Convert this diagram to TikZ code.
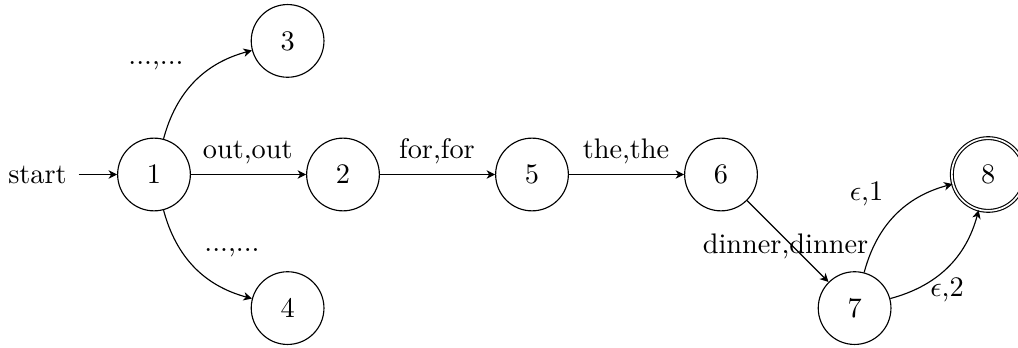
\documentclass[tikz,border=0pt]{standalone}
\usetikzlibrary{arrows.meta}
\begin{document}
\begin{tikzpicture}[x=0.3534pt,y=0.3534pt,
  statenode/.style={circle,draw,minimum size=25.7pt,inner sep=0pt},
  acceptnode/.style={statenode,double},
  lbl/.style={anchor=base,inner sep=0pt},
  edgearrow/.style={-{Stealth[length=3pt,width=3pt,inset=0.9pt]}}]
\useasboundingbox (0,0) rectangle (1018,347);
% states
\node[statenode] (n1) at (154,172.5) {1};
\node[statenode] (n2) at (343,172.5) {2};
\node[statenode] (n5) at (532,172.5) {5};
\node[statenode] (n6) at (721,172.5) {6};
\node[statenode] (n3) at (287.6,306.1) {3};
\node[statenode] (n4) at (287.6,38.9) {4};
\node[statenode] (n7) at (854.6,38.9) {7};
\node[acceptnode] (n8) at (988.2,172.5) {8};
\node[inner sep=4pt] (start) at (37.5,172.5) {start};
% edges
\draw[edgearrow] (start) -- (n1);
\draw[edgearrow] (n1) -- (n2);
\draw[edgearrow] (n2) -- (n5);
\draw[edgearrow] (n5) -- (n6);
\draw[edgearrow] (n1) to[bend left] (n3);
\draw[edgearrow] (n1) to[bend right] (n4);
\draw[edgearrow] (n6) -- (n7);
\draw[edgearrow] (n7) to[bend left] (n8);
\draw[edgearrow] (n7) to[bend right] (n8);
% labels
\node[lbl] (l13) at (156,282.2) {...,...};
\node[lbl] (l14) at (232,95.5) {...,...};
\node[lbl] (l12) at (247.7,188.5) {out,out};
\node[lbl] (l25) at (437,188.5) {for,for};
\node[lbl] (l56) at (626,188.5) {the,the};
\node[lbl] (l67) at (785.5,93.7) {dinner,dinner};
\node[lbl] (l78a) at (866.5,147) {$\epsilon$,1};
\node[lbl] (l78b) at (947,50.3) {$\epsilon$,2};
\end{tikzpicture}
\end{document}
